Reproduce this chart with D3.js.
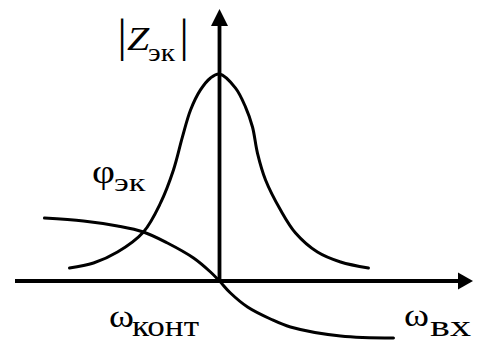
<!DOCTYPE html>
<html>
<head>
<meta charset="utf-8">
<script src="https://cdn.jsdelivr.net/npm/d3@7"></script>
<style>
  html, body { margin: 0; padding: 0; background: #fff; }
  svg { display: block; }
</style>
</head>
<body>
<svg id="chart" width="477" height="342"></svg>
<script>
// Relative frequency offset from the contour resonance (ω − ω_конт), normalised
const zFreq = [-1.00, -0.84, -0.68, -0.507, -0.393, -0.307, -0.247, -0.193, -0.127, -0.06, 0,
               0.107, 0.173, 0.22, 0.253, 0.307, 0.407, 0.507, 0.653, 0.807, 0.993];
// Normalised impedance magnitude |Z_эк|
const zMag  = [0.063, 0.087, 0.140, 0.237, 0.377, 0.536, 0.696, 0.826, 0.923, 0.981, 1.0,
               0.932, 0.841, 0.744, 0.618, 0.488, 0.343, 0.232, 0.140, 0.092, 0.063];

// Phase of the equivalent impedance φ_эк (normalised)
const phiFreq = [-1.167, -0.907, -0.68, -0.507, -0.347, -0.173, -0.06, 0,
                 0.073, 0.187, 0.34, 0.473, 0.807, 1.16];
const phiVal  = [0.7875, 0.75, 0.6875, 0.6125, 0.475, 0.2875, 0.1125, 0,
                 -0.15, -0.325, -0.475, -0.575, -0.6875, -0.7125];

const serif = "'Liberation Serif', 'Times New Roman', serif";
const svg = d3.select("#chart");

// Scales
const x = d3.scaleLinear().domain([-1, 1]).range([69.5, 369.5]);
const yZ = d3.scaleLinear().domain([0, 1]).range([281, 74]);
const yPhi = d3.scaleLinear().domain([-1, 1]).range([361, 201]);

const x0 = x(0), y0 = yZ(0);

// Axes with arrowheads
const axisW = 3.8;
svg.append("line")
  .attr("x1", 15).attr("y1", y0).attr("x2", 460).attr("y2", y0)
  .attr("stroke", "#000").attr("stroke-width", axisW);
svg.append("path")
  .attr("d", `M473,${y0} L458,${y0 - 8.5} L458,${y0 + 8.5} Z`)
  .attr("fill", "#000");

svg.append("line")
  .attr("x1", x0).attr("y1", y0).attr("x2", x0).attr("y2", 24)
  .attr("stroke", "#000").attr("stroke-width", axisW);
svg.append("path")
  .attr("d", `M${x0},9 L${x0 - 8.5},26 L${x0 + 8.5},26 Z`)
  .attr("fill", "#000");

// Curves
const zLine = d3.line()
  .x((d, i) => x(zFreq[i]))
  .y(d => yZ(d))
  .curve(d3.curveCatmullRom.alpha(0.5));
svg.append("path")
  .attr("d", zLine(zMag))
  .attr("fill", "none").attr("stroke", "#000")
  .attr("stroke-width", 3).attr("stroke-linecap", "round").attr("stroke-linejoin", "round");

const phiLine = d3.line()
  .x((d, i) => x(phiFreq[i]))
  .y(d => yPhi(d))
  .curve(d3.curveCatmullRom.alpha(0.5));
svg.append("path")
  .attr("d", phiLine(phiVal))
  .attr("fill", "none").attr("stroke", "#000")
  .attr("stroke-width", 3).attr("stroke-linecap", "round").attr("stroke-linejoin", "round");

// Label pieces: each run of text is stretched horizontally to span [left, right]
function part(str, left, right, baseline, size, italic) {
  const t = svg.append("text")
    .attr("font-family", serif).attr("font-size", size)
    .attr("font-style", italic ? "italic" : null)
    .attr("fill", "#000").text(str);
  const bb = t.node().getBBox();
  const sx = (right - left) / bb.width;
  t.attr("transform", `translate(${left - bb.x * sx},${baseline}) scale(${sx},1)`);
}
function bar(cx, baseline, size) {
  svg.append("text")
    .attr("font-family", serif).attr("font-size", size)
    .attr("text-anchor", "middle").attr("fill", "#000")
    .attr("transform", `translate(${cx},${baseline})`)
    .text("|");
}

// |Z_эк|
bar(122, 51, 46);
part("Z", 127, 150, 50, 33, true);
part("эк", 148, 176, 61, 25, false);
bar(184, 51, 46);

// φ_эк
part("φ", 92, 115, 183, 33, false);
part("эк", 114, 146, 191, 26, false);

// ω_конт
part("ω", 109, 134, 327, 32, false);
part("конт", 132, 199, 335.5, 30, false);

// ω_вх
part("ω", 404, 429, 326, 32, false);
part("вх", 430, 471, 335.5, 30, false);
</script>
</body>
</html>
